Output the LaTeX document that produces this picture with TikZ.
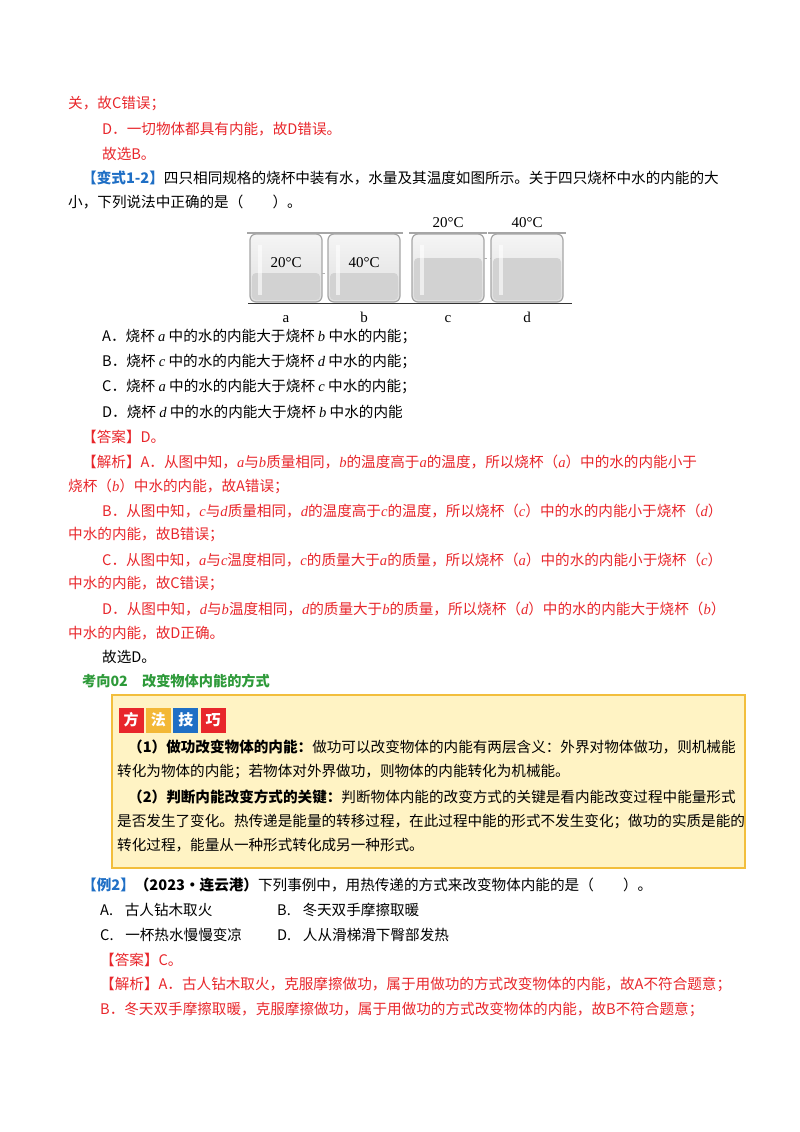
\documentclass[tikz,border=0pt]{standalone}
\usepackage{fontspec}
\setmainfont{Noto Sans CJK SC}
\newfontfamily\latin{Liberation Serif}
\usetikzlibrary{positioning}
\definecolor{ansred}{HTML}{E8262B}
\definecolor{tagblue}{HTML}{1F6FC5}
\definecolor{topicgreen}{HTML}{2E9A3A}
\definecolor{boxfill}{HTML}{FFF3C4}
\definecolor{boxline}{HTML}{F2BE3C}
\newcommand{\vi}[1]{{\latin\itshape #1}}
\begin{document}
\begin{tikzpicture}
  [x=1pt, y=-1pt,
   every node/.style = {inner sep=0pt, anchor=west, font=\fontsize{14.6}{18}\selectfont},
   txt/.style = {black},
   ans/.style = {ansred},
   tile/.style = {minimum size=25pt, anchor=center, text=white, font=\fontsize{15}{15}\selectfont\bfseries},
   beaker/.style = {draw=gray!70, line width=1.2pt, rounded corners=6pt, top color=gray!8, bottom color=gray!25},
   water/.style = {fill=gray!35, rounded corners=4pt},
   deg/.style = {anchor=base, font=\latin\fontsize{15}{15}\selectfont}
  ]
  \useasboundingbox (0,0) rectangle (800,1132);
  % previous answer tail
  \node[ans] (l1) at (68,104) {关，故C错误；};
  \node[ans] (l2) at (102,129) {D．一切物体都具有内能，故D错误。};
  \node[ans] (l3) at (102,154) {故选B。};
  % question
  \node[txt] (q1) at (82,178) {\textcolor{tagblue}{\bfseries【变式1-2】}四只相同规格的烧杯中装有水，水量及其温度如图所示。关于四只烧杯中水的内能的大};
  \node[txt] (q2) at (68,202) {小，下列说法中正确的是（\hspace{2em}）。};
  % beakers
  \foreach \name/\xl/\lev in {a/250/273, b/328/273, c/412/258, d/491/258} {
    \draw[beaker] (\xl,302) rectangle ++(72,-68);
    \fill[water] (\xl+2,\lev) rectangle (\xl+70,300);
    \draw[gray!70, line width=1.2pt] (\xl-3,233) -- (\xl+75,233);
    \fill[white, opacity=0.6] (\xl+8,245) rectangle (\xl+12,295);
    \node[deg] (lab\name) at (\xl+36,322) {\name};
  }
  \draw[gray!60, dashed] (322,273) -- (328,273);
  \draw[gray!60, dashed] (484,258) -- (491,258);
  \draw[black!80, line width=1pt] (248,303) -- (572,303);
  \node[deg] (ta) at (286,267) {20°C};
  \node[deg] (tb) at (364,267) {40°C};
  \node[deg] (tc) at (448,227) {20°C};
  \node[deg] (td) at (527,227) {40°C};
  % options
  \node[txt] (oa) at (102,337) {A．烧杯 \vi{a} 中的水的内能大于烧杯 \vi{b} 中水的内能；};
  \node[txt] (ob) at (102,362) {B．烧杯 \vi{c} 中的水的内能大于烧杯 \vi{d} 中水的内能；};
  \node[txt] (oc) at (102,387) {C．烧杯 \vi{a} 中的水的内能大于烧杯 \vi{c} 中水的内能；};
  \node[txt] (od) at (102,412) {D．烧杯 \vi{d} 中的水的内能大于烧杯 \vi{b} 中水的内能};
  % answer
  \node[ans] (a1) at (82,437) {【答案】D。};
  \node[ans] (a2) at (82,462) {【解析】A．从图中知，\vi{a}与\vi{b}质量相同，\vi{b}的温度高于\vi{a}的温度，所以烧杯（\vi{a}）中的水的内能小于};
  \node[ans] (a3) at (68,486) {烧杯（\vi{b}）中水的内能，故A错误；};
  \node[ans] (a4) at (102,511) {B．从图中知，\vi{c}与\vi{d}质量相同，\vi{d}的温度高于\vi{c}的温度，所以烧杯（\vi{c}）中的水的内能小于烧杯（\vi{d}）};
  \node[ans] (a5) at (68,535) {中水的内能，故B错误；};
  \node[ans] (a6) at (102,560) {C．从图中知，\vi{a}与\vi{c}温度相同，\vi{c}的质量大于\vi{a}的质量，所以烧杯（\vi{a}）中的水的内能小于烧杯（\vi{c}）};
  \node[ans] (a7) at (68,584) {中水的内能，故C错误；};
  \node[ans] (a8) at (102,609) {D．从图中知，\vi{d}与\vi{b}温度相同，\vi{d}的质量大于\vi{b}的质量，所以烧杯（\vi{d}）中的水的内能大于烧杯（\vi{b}）};
  \node[ans] (a9) at (68,633) {中水的内能，故D正确。};
  \node[txt] (a10) at (102,657) {故选D。};
  % topic
  \node[topicgreen, font=\fontsize{14.2}{18}\selectfont\bfseries] (topic) at (82,681) {考向02\hspace{1em}改变物体内能的方式};
  % method box
  \draw[boxline, fill=boxfill, line width=1.5pt] (112,695) rectangle (745,868);
  \node[tile, fill=ansred] (t1) at (131,720) {方};
  \node[tile, fill=boxline!90!orange, right=2pt of t1] (t2) {法};
  \node[tile, fill=tagblue, right=2pt of t2] (t3) {技};
  \node[tile, fill=ansred, right=2pt of t3] (t4) {巧};
  \node[txt] (m1) at (128,747) {\textbf{（1）做功改变物体的内能：}做功可以改变物体的内能有两层含义：外界对物体做功，则机械能};
  \node[txt] (m2) at (117,772) {转化为物体的内能；若物体对外界做功，则物体的内能转化为机械能。};
  \node[txt] (m3) at (128,797) {\textbf{（2）判断内能改变方式的关键：}判断物体内能的改变方式的关键是看内能改变过程中能量形式};
  \node[txt] (m4) at (117,821) {是否发生了变化。热传递是能量的转移过程，在此过程中能的形式不发生变化；做功的实质是能的};
  \node[txt] (m5) at (117,845) {转化过程，能量从一种形式转化成另一种形式。};
  % example 2
  \node[txt] (e1) at (82,885) {\textcolor{tagblue}{\bfseries【例2】}\textbf{（2023•连云港）}下列事例中，用热传递的方式来改变物体内能的是（\hspace{2em}）。};
  \node[txt] (eA) at (100,910) {A.\hspace{0.8em}古人钻木取火};
  \node[txt] (eB) at (277,910) {B.\hspace{0.8em}冬天双手摩擦取暖};
  \node[txt] (eC) at (100,935) {C.\hspace{0.8em}一杯热水慢慢变凉};
  \node[txt] (eD) at (277,935) {D.\hspace{0.8em}人从滑梯滑下臀部发热};
  \node[ans] (e2) at (100,960) {【答案】C。};
  \node[ans] (e3) at (100,984) {【解析】A．古人钻木取火，克服摩擦做功，属于用做功的方式改变物体的内能，故A不符合题意；};
  \node[ans] (e4) at (100,1009) {B．冬天双手摩擦取暖，克服摩擦做功，属于用做功的方式改变物体的内能，故B不符合题意；};
\end{tikzpicture}
\end{document}
